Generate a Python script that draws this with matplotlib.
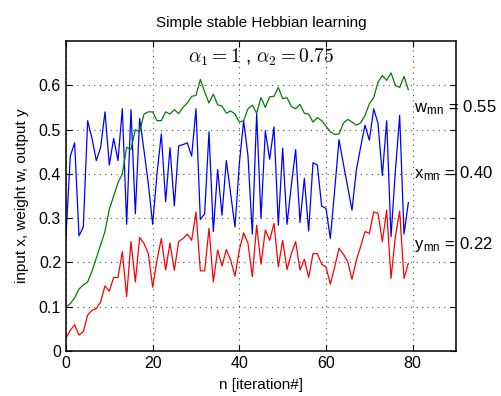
import numpy as np
import matplotlib
matplotlib.use('Agg')
from matplotlib import pyplot as plt

plt.rcParams['font.family'] = ['Liberation Sans', 'DejaVu Sans']
plt.rcParams['mathtext.fontset'] = 'cm'

# input x (blue), weight w (green), output y (red)
x_in = [0.26, 0.44, 0.47, 0.26, 0.28, 0.52, 0.48, 0.43, 0.46, 0.54,
        0.42, 0.48, 0.43, 0.547, 0.286, 0.545, 0.31, 0.525, 0.453, 0.378,
        0.286, 0.40, 0.49, 0.337, 0.459, 0.328, 0.463, 0.466, 0.47, 0.44,
        0.547, 0.297, 0.31, 0.495, 0.27, 0.41, 0.307, 0.43, 0.355, 0.28,
        0.423, 0.52, 0.44, 0.264, 0.536, 0.30, 0.497, 0.433, 0.506, 0.284,
        0.458, 0.286, 0.374, 0.455, 0.29, 0.39, 0.271, 0.425, 0.42, 0.327,
        0.322, 0.254, 0.363, 0.477, 0.423, 0.371, 0.318, 0.408, 0.461, 0.51,
        0.476, 0.547, 0.514, 0.396, 0.52, 0.258, 0.405, 0.532, 0.264, 0.335]
w = [0.10, 0.107, 0.12, 0.14, 0.149, 0.156, 0.18, 0.21, 0.24, 0.27,
     0.32, 0.35, 0.38, 0.40, 0.46, 0.455, 0.50, 0.495, 0.535, 0.54,
     0.54, 0.52, 0.52, 0.54, 0.535, 0.545, 0.536, 0.55, 0.56, 0.575,
     0.577, 0.613, 0.585, 0.56, 0.58, 0.556, 0.553, 0.537, 0.542, 0.535,
     0.517, 0.52, 0.547, 0.555, 0.537, 0.572, 0.55, 0.574, 0.575, 0.595,
     0.57, 0.572, 0.552, 0.547, 0.557, 0.537, 0.535, 0.517, 0.527, 0.52,
     0.508, 0.495, 0.489, 0.49, 0.514, 0.523, 0.517, 0.51, 0.515, 0.532,
     0.558, 0.572, 0.607, 0.622, 0.611, 0.628, 0.60, 0.595, 0.62, 0.59]
y_out = [0.029, 0.047, 0.059, 0.036, 0.044, 0.081, 0.092, 0.096, 0.111, 0.147,
         0.135, 0.166, 0.166, 0.224, 0.123, 0.247, 0.156, 0.256, 0.243, 0.22,
         0.144, 0.205, 0.254, 0.183, 0.244, 0.182, 0.247, 0.254, 0.264, 0.25,
         0.314, 0.181, 0.181, 0.277, 0.156, 0.228, 0.192, 0.229, 0.205, 0.169,
         0.228, 0.267, 0.243, 0.168, 0.284, 0.196, 0.273, 0.25, 0.288, 0.19,
         0.25, 0.184, 0.22, 0.247, 0.183, 0.207, 0.166, 0.22, 0.22, 0.196,
         0.19, 0.151, 0.19, 0.232, 0.219, 0.202, 0.162, 0.205, 0.236, 0.27,
         0.265, 0.314, 0.311, 0.247, 0.318, 0.164, 0.258, 0.316, 0.164, 0.198]

labels = ['w', 'x', 'y']
means = [0.55, 0.40, 0.22]
label_y = [0.55, 0.40, 0.24]

n = np.arange(len(w))

fig = plt.figure(figsize=(5.01, 3.96), dpi=100)
ax = fig.add_axes([0.1317, 0.1136, 0.7785, 0.7829])

ax.plot(n, x_in, color='#0000ff', lw=0.9)
ax.plot(n, w, color='#008000', lw=0.9)
ax.plot(n, y_out, color='#ff0000', lw=0.9)

ax.set_xlim(0, 90)
ax.set_ylim(0, 0.7)
ax.set_xticks([0, 20, 40, 60, 80])
ax.set_yticks([0, 0.1, 0.2, 0.3, 0.4, 0.5, 0.6])
ax.set_yticklabels(['0', '0.1', '0.2', '0.3', '0.4', '0.5', '0.6'])
ax.grid(True, color='k', linestyle=(0, (1, 4)), lw=0.8, alpha=0.7)
ax.tick_params(direction='in', top=True, right=True, labelsize=11.5, length=4)
for s in ax.spines.values():
    s.set_linewidth(1.1)

ax.set_title('Simple stable Hebbian learning', fontsize=11, pad=10)
ax.set_xlabel('n [iteration#]', fontsize=11, labelpad=5)
ax.set_ylabel('input x, weight w, output y', fontsize=11, labelpad=7)

ax.text(45, 0.662, r'$\alpha_1 = 1$ , $\alpha_2 = 0.75$', ha='center', va='center',
        fontsize=14)
for lab, m, yy in zip(labels, means, label_y):
    ax.text(80.3, yy, lab + r'$_\mathregular{mn}$' + ' = %.2f' % m, ha='left',
            va='center', fontsize=12, clip_on=False)

fig.savefig('out.png', dpi=100)
